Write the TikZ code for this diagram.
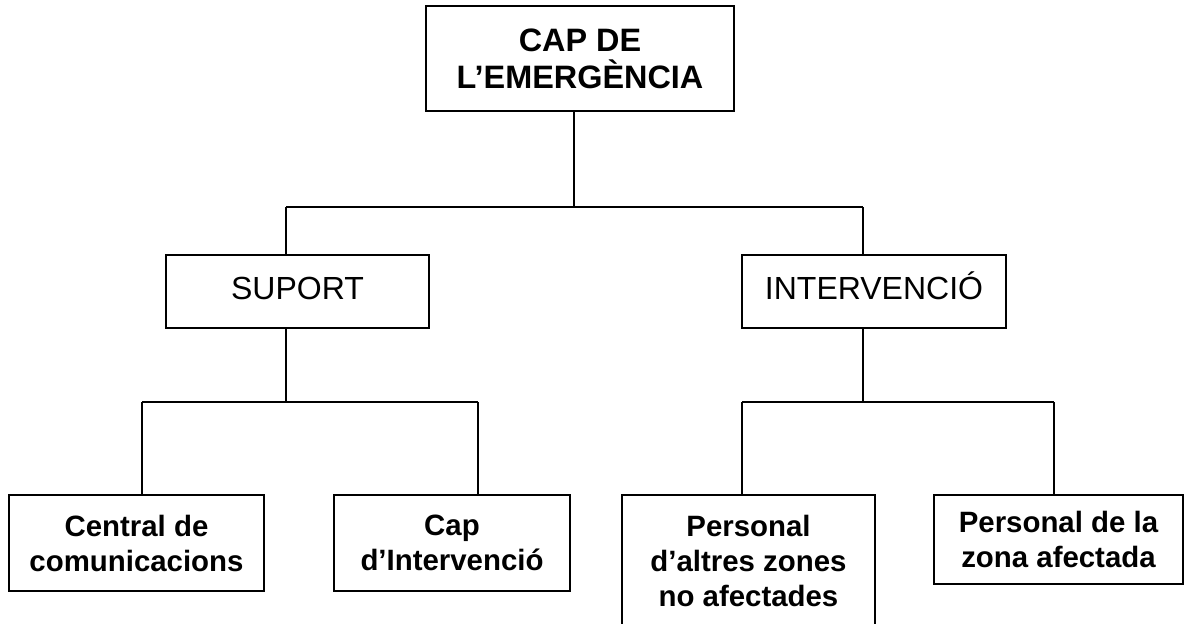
\documentclass[tikz,border=0pt]{standalone}
\usepackage{fontspec}
\setmainfont{Liberation Sans}
\usetikzlibrary{positioning,calc}

\begin{document}
\begin{tikzpicture}[x=0.5pt, y=-0.5pt, line width=1pt,
		box/.style={draw, rectangle, inner sep=0pt, align=center, font=\fontsize{16}{18}\selectfont, text height=12pt, text depth=4pt},
		boldbox/.style={draw, rectangle, inner sep=0pt, align=center, font=\fontsize{14.7}{17.5}\selectfont\bfseries}]
		\useasboundingbox (0,0) rectangle (1185,623);
		\clip (0,0) rectangle (1185,623);
		
		\node[boldbox, minimum width=154pt, minimum height=52.5pt, font=\fontsize{16.2}{18.5}\selectfont\bfseries] (cap) at (580,58.5) {CAP DE\\L’EMERGÈNCIA};
		\node[box, minimum width=131.5pt, minimum height=36.5pt] (suport) at (297.5,291.5) {SUPORT};
		\node[box, minimum width=132pt, minimum height=36.5pt] (interv) at (874,291.5) {INTERVENCIÓ};
		\node[boldbox, minimum width=127.5pt, minimum height=48pt] (central) at (136.5,543) {Central de\\comunicacions};
		\node[boldbox, minimum width=118pt, minimum height=48pt] (capint) at (452,543) {Cap\\d’Intervenció};
		\node[boldbox, minimum width=126.5pt, minimum height=65.5pt] (altres) at (748.5,560.5) {Personal\\d’altres zones\\no afectades};
		\node[boldbox, minimum width=124.5pt, minimum height=44.5pt] (zona) at (1058.5,539.5) {Personal de la\\zona afectada};
		
		% junctions of the tree
		\coordinate (jt) at (574,207);
		\coordinate (js) at (286,207);
		\coordinate (ji) at (863,207);
		\coordinate (ls) at (286,402);
		\coordinate (lc) at (142,402);
		\coordinate (lp) at (478,402);
		\coordinate (li) at (863,402);
		\coordinate (la) at (742,402);
		\coordinate (lz) at (1054,402);
		
		\draw (cap.south -| jt) -- (jt);
		\draw (js) -- (ji);
		\draw (js) -- (suport.north -| js);
		\draw (ji) -- (interv.north -| ji);
		
		\draw (suport.south -| ls) -- (ls);
		\draw (lc) -- (lp);
		\draw (lc) -- (central.north -| lc);
		\draw (lp) -- (capint.north -| lp);
		
		\draw (interv.south -| li) -- (li);
		\draw (la) -- (lz);
		\draw (la) -- (altres.north -| la);
		\draw (lz) -- (zona.north -| lz);
\end{tikzpicture}
\end{document}
